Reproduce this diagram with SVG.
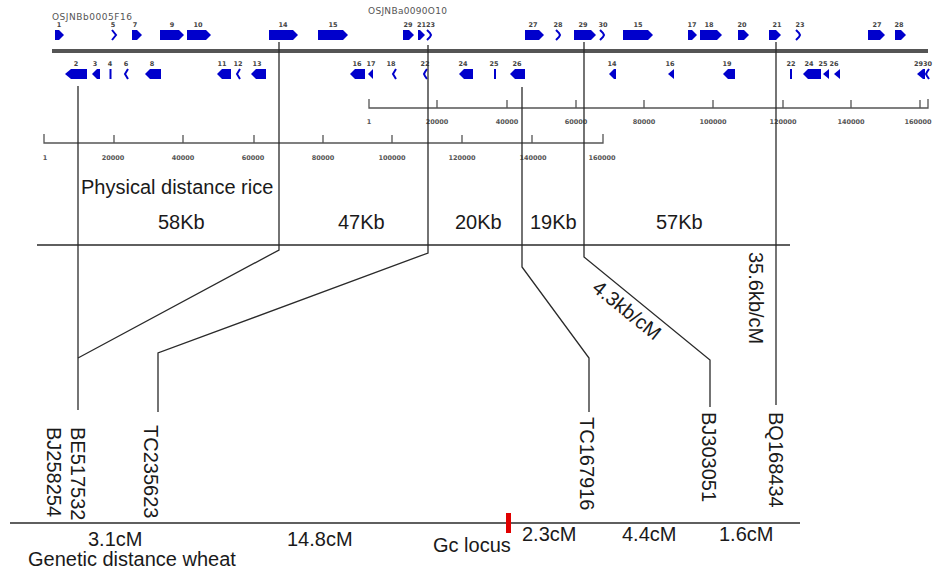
<svg xmlns="http://www.w3.org/2000/svg" width="940" height="571" viewBox="0 0 940 571">
<style>
.g{fill:#0000cc}
.ch{fill:none;stroke:#0000cc;stroke-width:2}
.gl{font-family:"DejaVu Sans",Verdana,sans-serif;font-size:6.5px;font-weight:bold;fill:#444;text-anchor:middle}
.sc{font-family:"DejaVu Sans",Verdana,sans-serif;font-size:6.5px;font-weight:bold;fill:#555;text-anchor:middle}
.bac{font-family:"DejaVu Sans",Verdana,sans-serif;font-size:9px;fill:#555}
.t{font-family:"Liberation Sans",Arial,sans-serif;font-size:20px;fill:#1a1a1a}
.ln{stroke:#2a2a2a;stroke-width:1.3;fill:none}
.sl{stroke:#555;stroke-width:1.3;fill:none}
</style>
<rect width="940" height="571" fill="#fff"/>

<g id="bac-labels">
<text class="bac" x="52" y="20" textLength="80">OSJNBb0005F16</text>
<text class="bac" x="368" y="14" textLength="79">OSJNBa0090O10</text>
</g>

<g id="chromosome">
<line x1="52" y1="51" x2="928" y2="51" stroke="#555" stroke-width="4"/>
</g>

<g id="genes-forward">
<g id="gf1"><polygon class="g" points="55,30 59,30 64,35 59,40 55,40"/><text class="gl" x="59" y="27">1</text></g>
<g id="gf5"><polyline class="ch" points="112,30 116,35 112,40"/><text class="gl" x="113" y="27">5</text></g>
<g id="gf7"><polygon class="g" points="132,30 137,30 142,35 137,40 132,40"/><text class="gl" x="135" y="27">7</text></g>
<g id="gf9"><polygon class="g" points="160,30 179,30 184,35 179,40 160,40"/><text class="gl" x="172" y="27">9</text></g>
<g id="gf10"><polygon class="g" points="187,30 206,30 211,35 206,40 187,40"/><text class="gl" x="198" y="27">10</text></g>
<g id="gf14"><polygon class="g" points="269,30 293,30 298,35 293,40 269,40"/><text class="gl" x="283" y="27">14</text></g>
<g id="gf15"><polygon class="g" points="318,30 343,30 348,35 343,40 318,40"/><text class="gl" x="333" y="27">15</text></g>
<g id="gf19"><polygon class="g" points="403,30 409,30 414,35 409,40 403,40"/><text class="gl" x="408" y="27">29</text></g>
<g id="gf21"><polygon class="g" points="418,30 420,30 425,35 420,40 418,40"/><text class="gl" x="426" y="27">2123</text></g>
<g id="gf23"><polyline class="ch" points="427,30 430,33 431,35 430,37 427,40"/></g>
<g id="gf27"><polygon class="g" points="525,30 539,30 544,35 539,40 525,40"/><text class="gl" x="533" y="27">27</text></g>
<g id="gf28"><polyline class="ch" points="556,30 559,33 560,35 559,37 556,40"/><text class="gl" x="558" y="27">28</text></g>
<g id="gf29"><polygon class="g" points="574,30 591,30 596,35 591,40 574,40"/><text class="gl" x="583" y="27">29</text></g>
<g id="gf30"><polyline class="ch" points="600,30 603,33 604,35 603,37 600,40"/><text class="gl" x="603" y="27">30</text></g>
<g id="gf15b"><polygon class="g" points="623,30 648,30 653,35 648,40 623,40"/><text class="gl" x="638" y="27">15</text></g>
<g id="gf17b"><polygon class="g" points="688,30 692,30 697,35 692,40 688,40"/><text class="gl" x="692" y="27">17</text></g>
<g id="gf18b"><polygon class="g" points="700,30 717,30 722,35 717,40 700,40"/><text class="gl" x="709" y="27">18</text></g>
<g id="gf20b"><polygon class="g" points="738,30 744,30 749,35 744,40 738,40"/><text class="gl" x="742" y="27">20</text></g>
<g id="gf21b"><polygon class="g" points="769,30 776,30 781,35 776,40 769,40"/><text class="gl" x="777" y="27">21</text></g>
<g id="gf23b"><polyline class="ch" points="796,30 799,33 800,35 799,37 796,40"/><text class="gl" x="800" y="27">23</text></g>
<g id="gf27b"><polygon class="g" points="868,30 880,30 885,35 880,40 868,40"/><text class="gl" x="877" y="27">27</text></g>
<g id="gf28b"><polygon class="g" points="895,30 901,30 906,35 901,40 895,40"/><text class="gl" x="899" y="27">28</text></g>
</g>

<g id="genes-reverse">
<g id="gr2"><polygon class="g" points="65,74 71,69 87,69 87,79 71,79"/><text class="gl" x="76" y="66">2</text></g>
<g id="gr3"><polygon class="g" points="92,74 97,69 100,69 100,79 97,79"/><text class="gl" x="95" y="66">3</text></g>
<g id="gr4"><rect class="g" x="109.5" y="69" width="2" height="10"/><text class="gl" x="110" y="66">4</text></g>
<g id="gr6"><polyline class="ch" points="128,69 125,74 128,79"/><text class="gl" x="126" y="66">6</text></g>
<g id="gr8"><polygon class="g" points="145,74 150,69 161,69 161,79 150,79"/><text class="gl" x="152" y="66">8</text></g>
<g id="gr11"><polygon class="g" points="217,74 222,69 231,69 231,79 222,79"/><text class="gl" x="222" y="66">11</text></g>
<g id="gr12"><polyline class="ch" points="240,69 237,74 240,79"/><text class="gl" x="238" y="66">12</text></g>
<g id="gr13"><polygon class="g" points="251,74 256,69 266,69 266,79 256,79"/><text class="gl" x="257" y="66">13</text></g>
<g id="gr16"><polygon class="g" points="350,74 355,69 365,69 365,79 355,79"/><text class="gl" x="357" y="66">16</text></g>
<g id="gr17"><polygon class="g" points="368,74 373,69 373,79"/><text class="gl" x="371" y="66">17</text></g>
<g id="gr18"><polyline class="ch" points="396,69 393,74 396,79"/><text class="gl" x="391" y="66">18</text></g>
<g id="gr22"><polyline class="ch" points="427,69 425,72 424,74 425,76 427,79"/><text class="gl" x="425" y="66">22</text></g>
<g id="gr24"><polygon class="g" points="459,74 464,69 473,69 473,79 464,79"/><text class="gl" x="463" y="66">24</text></g>
<g id="gr25"><rect class="g" x="494" y="69" width="2" height="10"/><text class="gl" x="494" y="66">25</text></g>
<g id="gr26"><polygon class="g" points="510,74 515,69 525,69 525,79 515,79"/><text class="gl" x="517" y="66">26</text></g>
<g id="gr14b"><polygon class="g" points="609,74 614,69 616,69 616,79 614,79"/><text class="gl" x="612" y="66">14</text></g>
<g id="gr16b"><polygon class="g" points="668,74 674,69 674,79"/><text class="gl" x="670" y="66">16</text></g>
<g id="gr19b"><polygon class="g" points="723,74 728,69 735,69 735,79 728,79"/><text class="gl" x="727" y="66">19</text></g>
<g id="gr22b"><rect class="g" x="790" y="69" width="2" height="10"/><text class="gl" x="791" y="66">22</text></g>
<g id="gr24b"><polygon class="g" points="803,74 808,69 821,69 821,79 808,79"/><text class="gl" x="809" y="66">24</text></g>
<g id="gr25b"><polygon class="g" points="823,74 829,69 829,79"/><text class="gl" x="823" y="66">25</text></g>
<g id="gr26b"><polygon class="g" points="834,74 840,69 840,79"/><text class="gl" x="834" y="66">26</text></g>
<g id="gr29b"><polygon class="g" points="917,74 923,69 925,69 925,79 923,79"/><polyline class="ch" points="929,69 927,72 926,74 927,76 929,79"/><text class="gl" x="923" y="66">2930</text></g>
</g>

<g id="scale-bac2">
<polyline class="sl" points="369,99 369,108 928,108 928,99"/>
<path class="sl" d="M437,100V108M507,100V108M576,100V108M644,100V108M713,100V108M783,100V108M851,100V108M920,100V108"/>
<text class="sc" x="369" y="124">1</text>
<text class="sc" x="437" y="124">20000</text>
<text class="sc" x="507" y="124">40000</text>
<text class="sc" x="576" y="124">60000</text>
<text class="sc" x="644" y="124">80000</text>
<text class="sc" x="713" y="124">100000</text>
<text class="sc" x="783" y="124">120000</text>
<text class="sc" x="851" y="124">140000</text>
<text class="sc" x="918" y="124">160000</text>
</g>

<g id="scale-bac1">
<polyline class="sl" points="44,134 44,143 603,143 603,134"/>
<path class="sl" d="M114,135V143M183,135V143M254,135V143M323,135V143M392,135V143M462,135V143M532,135V143"/>
<text class="sc" x="45" y="160">1</text>
<text class="sc" x="113" y="160">20000</text>
<text class="sc" x="183" y="160">40000</text>
<text class="sc" x="253" y="160">60000</text>
<text class="sc" x="323" y="160">80000</text>
<text class="sc" x="392" y="160">100000</text>
<text class="sc" x="462" y="160">120000</text>
<text class="sc" x="533" y="160">140000</text>
<text class="sc" x="602" y="160">160000</text>
</g>

<g id="axes">
<line class="ln" x1="37" y1="245" x2="790" y2="245"/>
<line class="ln" x1="10" y1="523" x2="800" y2="523"/>
</g>

<g id="connectors">
<polyline class="ln" points="78,86 78,410"/>
<polyline class="ln" points="279,42 279,250 78,358"/>
<polyline class="ln" points="428,45 428,253 158,353 158,412"/>
<polyline class="ln" points="522,87 522,267 589,358 589,412"/>
<polyline class="ln" points="584,42 584,257 710,360 710,407"/>
<polyline class="ln" points="776,42 776,405"/>
</g>

<g id="gc-locus">
<rect x="506" y="513" width="5" height="20" fill="#e00000"/>
</g>

<g id="rice-labels">
<text class="t" x="81" y="194">Physical distance rice</text>
<text class="t" x="158" y="229">58Kb</text>
<text class="t" x="338" y="229">47Kb</text>
<text class="t" x="455" y="229">20Kb</text>
<text class="t" x="530" y="229">19Kb</text>
<text class="t" x="656" y="229">57Kb</text>
<text class="t" text-anchor="middle" transform="translate(622.6,315.5) rotate(39)">4.3kb/cM</text>
<text class="t" transform="translate(749,252) rotate(90)">35.6kb/cM</text>
</g>

<g id="markers">
<g id="m-BJ258254"><text class="t" transform="translate(47,427) rotate(90)">BJ258254</text></g>
<g id="m-BE517532"><text class="t" transform="translate(71,427) rotate(90)">BE517532</text></g>
<g id="m-TC235623"><text class="t" transform="translate(144,425) rotate(90)">TC235623</text></g>
<g id="m-TC167916"><text class="t" transform="translate(580,417) rotate(90)">TC167916</text></g>
<g id="m-BJ303051"><text class="t" transform="translate(702,412) rotate(90)">BJ303051</text></g>
<g id="m-BQ168434"><text class="t" transform="translate(769,412) rotate(90)">BQ168434</text></g>
</g>

<g id="wheat-labels">
<text class="t" x="88" y="546">3.1cM</text>
<text class="t" x="28" y="566">Genetic distance wheat</text>
<text class="t" x="287" y="546">14.8cM</text>
<text class="t" x="433" y="552">Gc locus</text>
<text class="t" x="522" y="541">2.3cM</text>
<text class="t" x="622" y="541">4.4cM</text>
<text class="t" x="719" y="541">1.6cM</text>
</g>
</svg>
